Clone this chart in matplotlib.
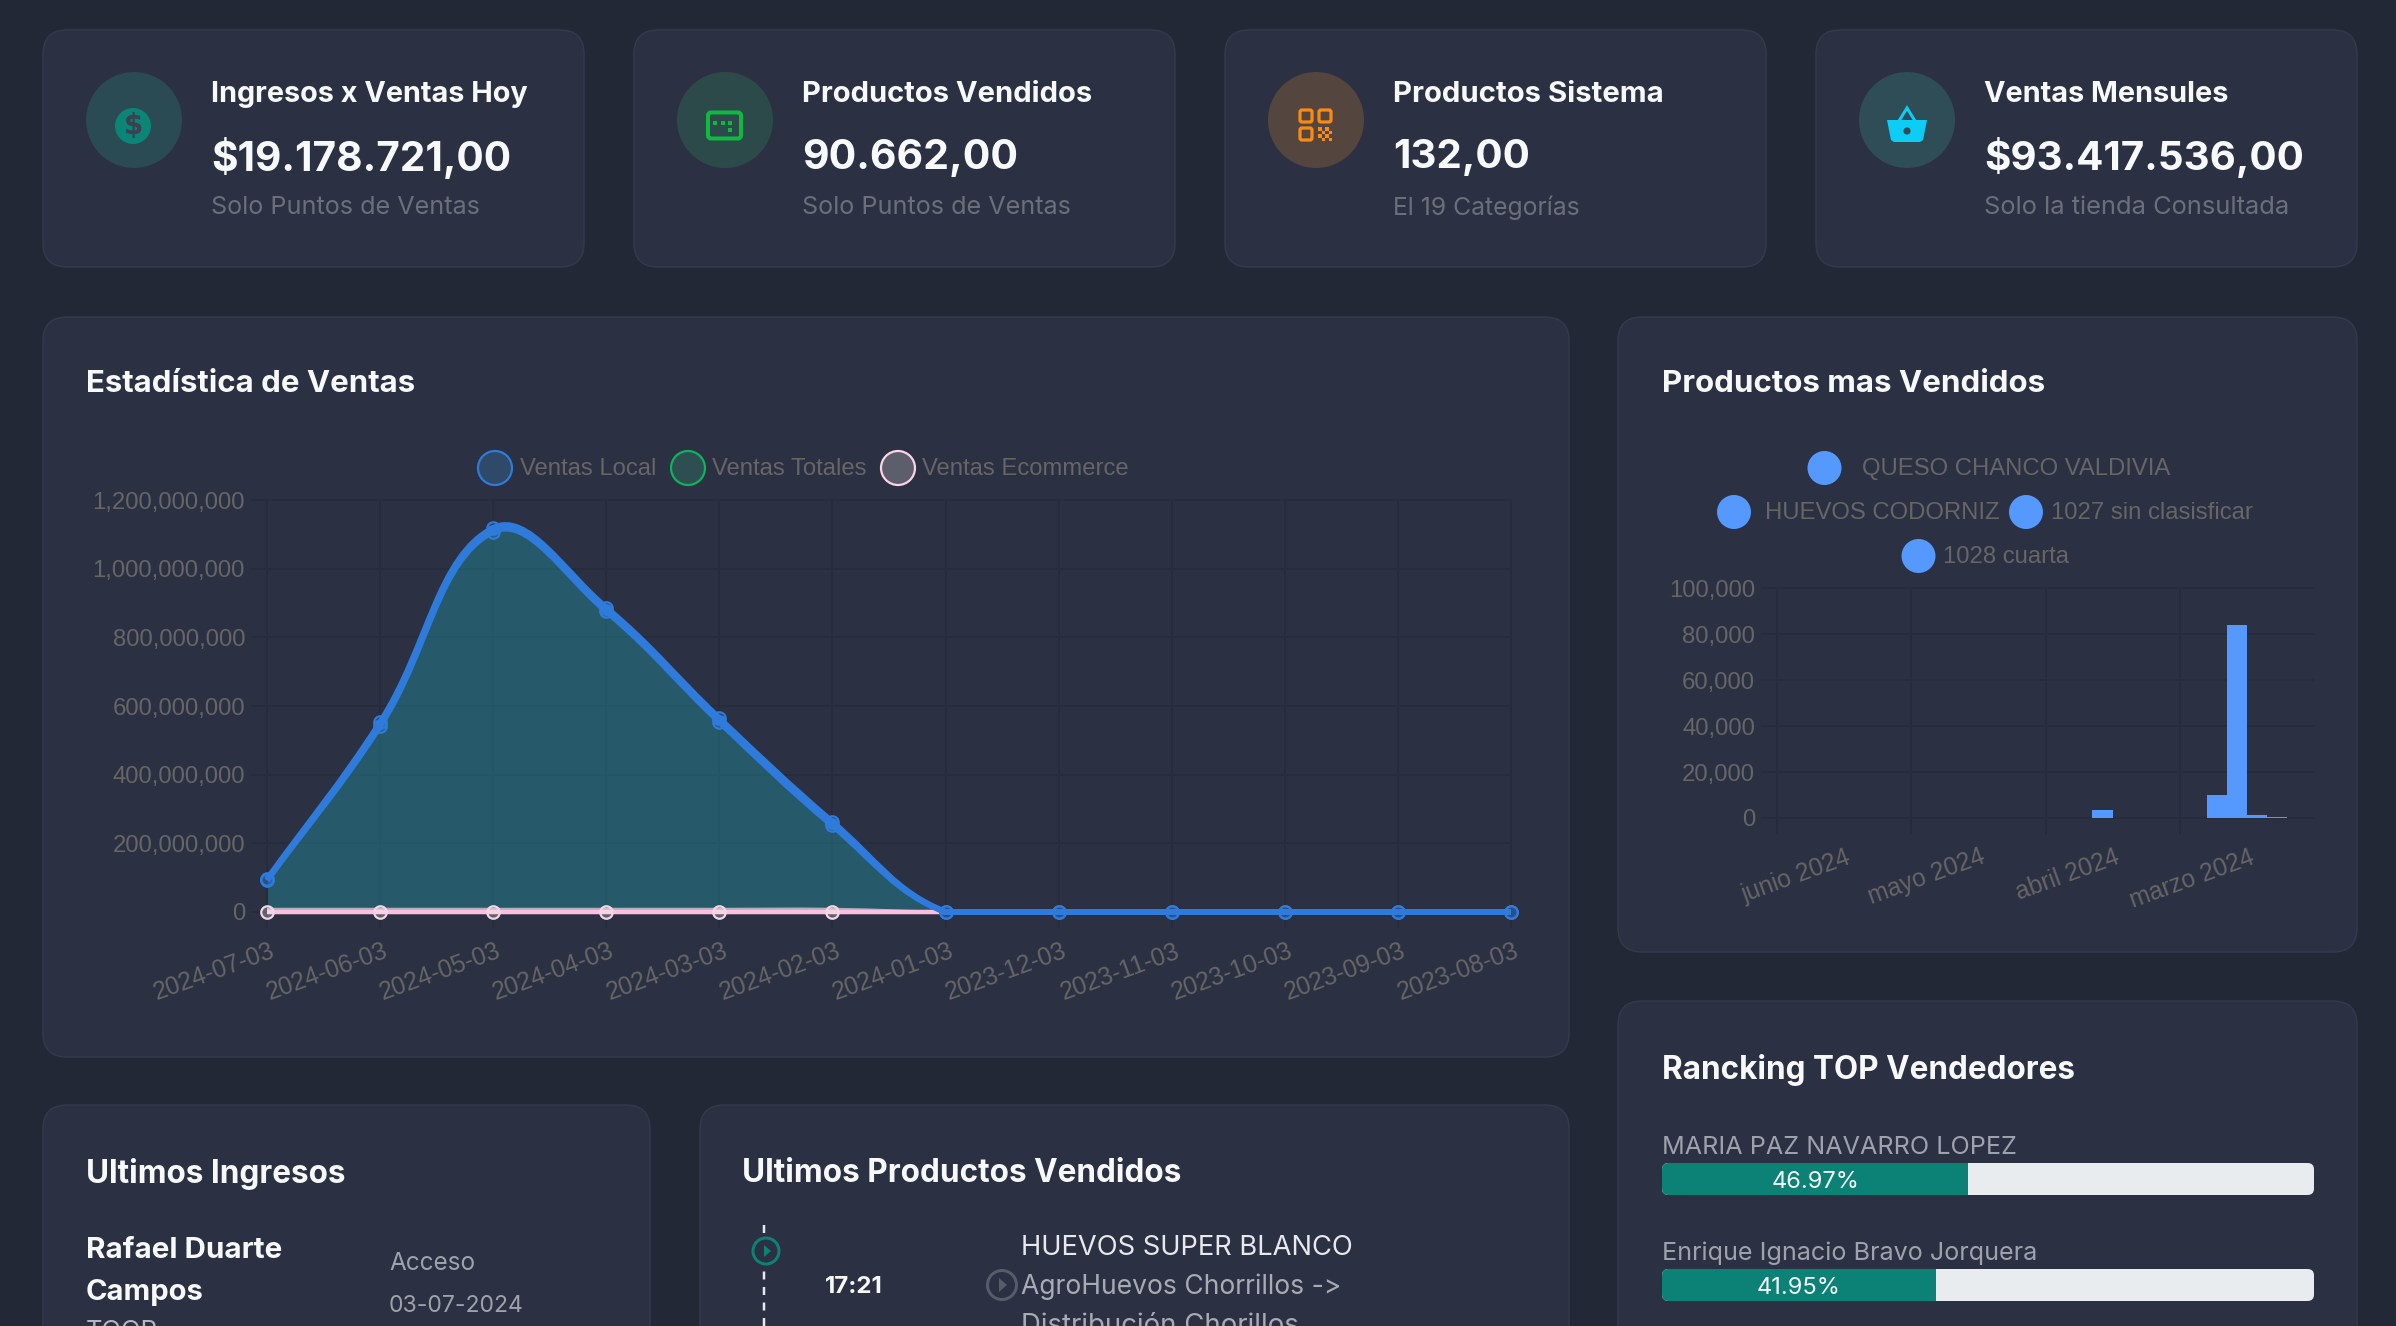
import matplotlib
matplotlib.use("Agg")
import matplotlib.pyplot as plt
from matplotlib.patches import FancyBboxPatch, Circle, Rectangle, Polygon, PathPatch
from matplotlib.path import Path
from matplotlib.ticker import FuncFormatter
from matplotlib.transforms import ScaledTranslation

# datos del grafico de ventas
fechas = ["2024-07-03", "2024-06-03", "2024-05-03", "2024-04-03", "2024-03-03", "2024-02-03",
          "2024-01-03", "2023-12-03", "2023-11-03", "2023-10-03", "2023-09-03", "2023-08-03"]
ventas_local = [92e6, 542e6, 1108e6, 876e6, 554e6, 252e6, 0, 0, 0, 0, 0, 0]
ventas_totales = [95e6, 552e6, 1118e6, 886e6, 564e6, 262e6, 0, 0, 0, 0, 0, 0]
ventas_ecommerce = [0, 0, 0, 0, 0, 0, 0, 0, 0, 0, 0, 0]
franja_gris = [8e6, 8e6, 8e6, 8e6, 8e6, 8e6, 0, 0, 0, 0, 0, 0]

# datos de productos
meses = ["junio 2024", "mayo 2024", "abril 2024", "marzo 2024"]
queso_chanco = [0, 0, 0, 10000]
huevos_codorniz = [0, 0, 3500, 84000]
sin_clasificar = [0, 0, 0, 1100]
cuarta = [0, 0, 100, 250]

# ranking
vendedores = ["MARIA PAZ NAVARRO LOPEZ", "Enrique Ignacio Bravo Jorquera"]
porcentajes = [46.97, 41.95]

FONDO = "#222836"
TARJETA = "#2b3043"
BORDE = "#333a4d"
BLANCO = "#f8f9fa"
GRIS = "#6b6f7b"
GRIS_CHART = "#666666"
GRILLA = "#272c3d"
AZUL = "#2f7bdc"
BARRA = "#5599ff"
TEAL = "#0c8276"
PX = 0.72  # puntos por pixel a dpi 100
HELV = "Liberation Sans"

plt.rcParams["font.family"] = ["Inter", "DejaVu Sans"]
fig = plt.figure(figsize=(23.96, 13.26), dpi=100, facecolor=FONDO)
renderer = fig.canvas.get_renderer()

# capa de fondo en pixeles
base = fig.add_axes([0, 0, 1, 1], zorder=0)
base.set_xlim(0, 2396)
base.set_ylim(1326, 0)
base.axis("off")


def tarjeta(x0, y0, x1, y1):
    base.add_patch(FancyBboxPatch((x0, y0), x1 - x0, y1 - y0, boxstyle="round,pad=0,rounding_size=24",
                                  fc=TARJETA, ec=BORDE, lw=1.5 * PX))


def texto(x, y, s, ancho=None, color=BLANCO, peso="normal", size=20, familia=None):
    t = base.text(x, y + 3, s, color=color, fontweight=peso, fontsize=size, ha="left", va="center",
                  clip_on=True)
    if familia:
        t.set_family(familia)
    if ancho:
        w = t.get_window_extent(renderer).width
        t.set_fontsize(size * ancho / w)
    return t


def ax_px(x0, y0, x1, y1, **kw):
    ax = fig.add_axes([x0 / 2396, 1 - y1 / 1326, (x1 - x0) / 2396, (y1 - y0) / 1326], zorder=1, **kw)
    ax.patch.set_visible(False)
    return ax


def etiquetas_x(ax, dx):
    # etiquetas giradas como en chart.js, corridas un poco a la derecha
    corrida = ScaledTranslation(dx / 100, 0, fig.dpi_scale_trans)
    for lab in ax.get_xticklabels():
        lab.set(rotation=20, ha="right", va="top", rotation_mode="anchor", fontsize=17.8)
        lab.set_transform(lab.get_transform() + corrida)


for c in [(43, 30, 584, 267), (634, 30, 1175, 267), (1225, 30, 1766, 267), (1816, 30, 2357, 267),
          (43, 317, 1569, 1057), (1618, 317, 2357, 952), (1618, 1001, 2357, 1400),
          (43, 1105, 650, 1400), (700, 1105, 1569, 1400)]:
    tarjeta(*c)

# tarjetas de arriba
for x, tit, tw, val, vw, sub, sw in [
    (211, "Ingresos x Ventas Hoy", 318, "$19.178.721,00", 300, "Solo Puntos de Ventas", 269),
    (802, "Productos Vendidos", 291, "90.662,00", 216, "Solo Puntos de Ventas", 269),
    (1393, "Productos Sistema", 271, "132,00", 137, "El 19 Categorías", 187),
    (1984, "Ventas Mensules", 245, "$93.417.536,00", 319, "Solo la tienda Consultada", 305),
]:
    texto(x, 92, tit, tw, peso="bold")
    texto(x, 155, val, vw, peso="bold")
    texto(x, 204.5, sub, sw, color=GRIS)

for cx, col in [(134, "#2a4a54"), (725, "#2d4a4a"), (1316, "#54463f"), (1907, "#2e4d57")]:
    base.add_patch(Circle((cx, 120), 48, fc=col, ec="none"))

# icono dolar
base.add_patch(Circle((133, 126), 18, fc="#0b8577", ec="none"))
base.text(133, 126, "$", color="#3a4150", fontsize=20, fontweight="bold", ha="center", va="center",
          family="DejaVu Sans")

# icono pantalla
verde = "#0fb83f"
base.add_patch(FancyBboxPatch((708, 112.5), 33, 26, boxstyle="round,pad=0,rounding_size=3",
                              fc="none", ec=verde, lw=4 * PX))
for dx, dy in [(715, 123), (723, 123), (730, 123), (730, 130)]:
    base.add_patch(Rectangle((dx - 2, dy - 2), 4, 4, fc=verde, ec="none"))

# icono qr
naranja = "#f98a14"
for qx, qy in [(1300, 110), (1319, 110), (1300, 128)]:
    base.add_patch(FancyBboxPatch((qx, qy), 12, 12, boxstyle="round,pad=0,rounding_size=2",
                                  fc="none", ec=naranja, lw=3.2 * PX))
for i in range(4):
    for j in range(4):
        if (i + j) % 2 == 0:
            base.add_patch(Rectangle((1318 + i * 3.6, 127 + j * 3.6), 3.6, 3.6, fc=naranja, ec="none"))

# icono canasta
cian = "#0dcdf5"
base.add_patch(Polygon([(1887, 120), (1927, 120), (1923, 140), (1920, 142), (1894, 142), (1891, 140)],
                       closed=True, fc=cian, ec="none"))
base.add_patch(Polygon([(1899, 121), (1907, 108), (1915, 121)], closed=False, fc="none", ec=cian, lw=3 * PX))
base.add_patch(Circle((1907, 131), 3.6, fc="#2e4d57", ec="none"))

# titulos de tarjetas
texto(86, 381, "Estadística de Ventas", 330, peso="bold")
texto(1662, 381, "Productos mas Vendidos", 384, peso="bold")
texto(1662, 1067, "Rancking TOP Vendedores", 413, peso="bold")
texto(86, 1171, "Ultimos Ingresos", 260, peso="bold")
texto(742, 1171, "Ultimos Productos Vendidos", 440, peso="bold")


def curva(xs, ys, esc_x, esc_y, ymax):
    # curva tipo chart.js, tension 0.4, distancias en pixeles
    n = len(xs)
    ctrl = []
    for i in range(n):
        p = max(i - 1, 0)
        q = min(i + 1, n - 1)
        d01 = (((xs[i] - xs[p]) * esc_x) ** 2 + ((ys[i] - ys[p]) * esc_y) ** 2) ** 0.5
        d12 = (((xs[q] - xs[i]) * esc_x) ** 2 + ((ys[q] - ys[i]) * esc_y) ** 2) ** 0.5
        tot = (d01 + d12) or 1
        fa, fb = 0.4 * d01 / tot, 0.4 * d12 / tot
        c1 = (xs[i] - fa * (xs[q] - xs[p]), min(max(ys[i] - fa * (ys[q] - ys[p]), 0), ymax))
        c2 = (xs[i] + fb * (xs[q] - xs[p]), min(max(ys[i] + fb * (ys[q] - ys[p]), 0), ymax))
        ctrl.append((c1, c2))
    verts = [(xs[0], ys[0])]
    codes = [Path.MOVETO]
    for i in range(n - 1):
        verts += [ctrl[i][1], ctrl[i + 1][0], (xs[i + 1], ys[i + 1])]
        codes += [Path.CURVE4] * 3
    return verts, codes


def estilo_ejes(ax):
    ax.grid(True, color=GRILLA, lw=2 * PX, zorder=0)
    ax.set_axisbelow(True)
    ax.tick_params(length=16 * PX, width=2 * PX, color=GRILLA, labelcolor=GRIS_CHART, labelsize=17.2,
                   pad=6 * PX, labelfontfamily=HELV)
    for s in ax.spines.values():
        s.set_color(GRILLA)
        s.set_linewidth(2 * PX)
    ax.yaxis.set_major_formatter(FuncFormatter(lambda v, _: f"{v:,.0f}"))


# grafico de ventas
ax = ax_px(267, 500, 1511, 912)
xs = list(range(len(fechas)))
ymax = 1.2e9
ax.set_xlim(0, 11)
ax.set_ylim(0, ymax)
ax.set_yticks([0, 2e8, 4e8, 6e8, 8e8, 1e9, 1.2e9])
ax.set_xticks(xs)
ax.set_xticklabels(fechas)
estilo_ejes(ax)
ax.tick_params(axis="x", pad=11 * PX)
etiquetas_x(ax, 3)
esc_x, esc_y = 1244 / 11, 412 / ymax

for serie, col, alfa in [(ventas_totales, "#10b060", 0.25), (ventas_local, AZUL, 0.22)]:
    v, c = curva(xs, serie, esc_x, esc_y, ymax)
    relleno = Path(v + [(11, 0), (0, 0), (0, 0)], c + [Path.LINETO, Path.LINETO, Path.CLOSEPOLY])
    ax.add_patch(PathPatch(relleno, fc=col, ec="none", alpha=alfa, zorder=2))

v, c = curva(xs, franja_gris, esc_x, esc_y, ymax)
ax.add_patch(PathPatch(Path(v, c), fc="none", ec="#aab0bc", lw=3 * PX, zorder=3, clip_on=False))
v, c = curva(xs, ventas_ecommerce, esc_x, esc_y, ymax)
ax.add_patch(PathPatch(Path(v, c), fc="none", ec="#ffbfe0", lw=4.5 * PX, zorder=3, clip_on=False))
ax.plot(xs[:6], ventas_ecommerce[:6], "o", ms=12.5 * PX, mew=2.2 * PX, mfc="#ffffff40", mec="#f4d5e4",
        zorder=4, clip_on=False)

for serie in (ventas_totales, ventas_local):
    v, c = curva(xs, serie, esc_x, esc_y, ymax)
    ax.add_patch(PathPatch(Path(v, c), fc="none", ec=AZUL, lw=6 * PX, zorder=5, clip_on=False))
    ax.plot(xs, serie, "o", ms=12.5 * PX, mew=2.2 * PX, mfc=AZUL + "40", mec=AZUL, zorder=6, clip_on=False)

# leyenda ventas
ley = [(495, 520, "Ventas Local", "#2f7bdc", "#2f4a68"),
       (688, 712, "Ventas Totales", "#0fb35a", "#2d4f52"),
       (898, 922, "Ventas Ecommerce", "#ffd3e8", "#5c5e6b")]
for cx, tx, nom, ec, fc in ley:
    base.add_patch(Circle((cx, 468), 17, fc=fc, ec=ec, lw=2.2 * PX))
    texto(tx, 466, nom, color=GRIS_CHART, size=17.2, familia=HELV)

# grafico de productos
ax2 = ax_px(1777, 588, 2314, 818)
ax2.set_xlim(-0.5, 3.5)
ax2.set_ylim(0, 100000)
ax2.set_yticks([0, 20000, 40000, 60000, 80000, 100000])
ax2.set_xticks([0.5, 1.5, 2.5], minor=True)
ax2.set_xticks(range(len(meses)))
ax2.set_xticklabels(meses)
estilo_ejes(ax2)
ax2.grid(False, axis="x", which="major")
ax2.grid(True, axis="x", which="minor", color=GRILLA, lw=2 * PX)
ax2.tick_params(axis="x", which="major", length=0, pad=27 * PX)
ax2.tick_params(axis="x", which="minor", length=16 * PX, width=2 * PX, color=GRILLA)
ax2.plot([-0.5, -0.5], [0, -6500], color=GRILLA, lw=2 * PX, clip_on=False)
etiquetas_x(ax2, 2)
ax2.spines["right"].set_visible(False)

ancho = 0.15
for i, serie in enumerate([queso_chanco, huevos_codorniz, sin_clasificar, cuarta]):
    pos = [m + (i - 1.5) * ancho for m in range(len(meses))]
    ax2.bar(pos, serie, width=ancho, color=BARRA, linewidth=0, zorder=3)

for cx, cy, tx, nom in [(1824.5, 468, 1862, "QUESO CHANCO VALDIVIA"), (1734, 512, 1765, "HUEVOS CODORNIZ"),
                        (2026, 512, 2051, "1027 sin clasisficar"), (1918.5, 556, 1943, "1028 cuarta")]:
    base.add_patch(Circle((cx, cy), 17, fc=BARRA, ec="none"))
    texto(tx, cy - 2, nom, color=GRIS_CHART, size=17.2, familia=HELV)

# ranking de vendedores
for nom, pct, yn, y0, y1, w in zip(vendedores, porcentajes, [1144, 1250], [1163, 1269], [1195, 1301], [354, 375]):
    texto(1662, yn, nom, w, color="#9ea2ad")
    axr = ax_px(1662, y0, 2314, y1)
    axr.set_xlim(0, 100)
    axr.set_ylim(0, 1)
    axr.axis("off")
    fondo_barra = FancyBboxPatch((0, 0), 100, 1, boxstyle="round,pad=0,rounding_size=1",
                                 mutation_aspect=0.2, fc="#e9ecef", ec="none")
    axr.add_patch(fondo_barra)
    b = axr.barh([0.5], [pct], height=1, color=TEAL)
    b[0].set_clip_path(fondo_barra)
    axr.text(pct / 2, 0.42, f"{pct:.2f}%", color="#f4f6f8", ha="center", va="center", fontsize=17)

# ultimos ingresos
texto(86, 1247, "Rafael Duarte", 196, peso="bold")
texto(86, 1289, "Campos", 118, peso="bold")
texto(86, 1329, "TOOR", 72, color="#b5b8c1")
texto(389, 1261, "Acceso", 86, color="#9ea2ad")
texto(389, 1303, "03-07-2024", 135, color="#9ea2ad")

# ultimos productos vendidos
base.plot([764, 764], [1225, 1326], color="#e6e8ec", lw=2.5 * PX, dashes=(3.2, 3))
base.add_patch(Circle((766, 1251), 13, fc=TARJETA, ec=TEAL, lw=3 * PX, zorder=3))
base.add_patch(Polygon([(764, 1245), (771, 1251), (764, 1257)], closed=True, fc=TEAL, ec="none", zorder=4))
texto(825, 1284, "17:21", 58, peso="bold")
base.add_patch(Circle((1002, 1285), 14.5, fc=TARJETA, ec="#585c69", lw=3 * PX, zorder=3))
base.add_patch(Polygon([(999, 1278), (1007, 1285), (999, 1292)], closed=True, fc="#585c69", ec="none", zorder=4))
texto(1021, 1245, "HUEVOS SUPER BLANCO", 333, color="#e8e9ed")
texto(1021, 1284, "AgroHuevos Chorrillos ->", 320, color="#a8abb5")
texto(1021, 1323, "Distribución Chorillos", 278, color="#a8abb5")

fig.savefig("out.png", dpi=100, facecolor=FONDO)
